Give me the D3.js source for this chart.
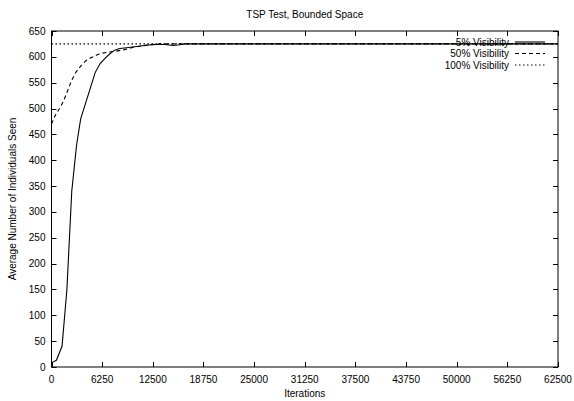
<!DOCTYPE html>
<html><head><meta charset="utf-8">
<script src="https://cdn.jsdelivr.net/npm/d3@7"></script>
<style>body{margin:0;background:#fff}svg{display:block}text{font-family:"Liberation Sans",Arial,sans-serif;font-size:10px;fill:#000}</style>
</head><body>
<script>
const seriesNames = ["5% Visibility", "50% Visibility", "100% Visibility"];
const xTicks = [0, 6250, 12500, 18750, 25000, 31250, 37500, 43750, 50000, 56250, 62500];
const yTicks = [0, 50, 100, 150, 200, 250, 300, 350, 400, 450, 500, 550, 600, 650];
const iter5 = [0, 600, 1300, 1900, 2500, 3100, 3600, 4200, 4800, 5400, 6000, 6600, 7200, 7800, 8400, 9000, 10000, 11000, 12000, 13000, 14000, 15000, 15600, 16500, 62500];
const vis5 = [8, 13, 40, 150, 340, 430, 480, 510, 540, 570, 587, 597, 606, 613, 616, 617, 619, 621, 623, 624, 624, 622, 623, 625, 625];
const iter50 = [0, 500, 1000, 1500, 2000, 2500, 3000, 3600, 4200, 4800, 5500, 6200, 7000, 8000, 9000, 10000, 11000, 12000, 13000, 62500];
const vis50 = [470, 488, 500, 515, 535, 555, 570, 582, 592, 598, 603, 607, 609, 611, 614, 618, 621, 623, 625, 625];
const iter100 = [0, 62500];
const vis100 = [625, 625];

const W = 574, H = 401;
const m = {l: 51.5, r: 558, t: 31, b: 367};
const svg = d3.select("body").append("svg").attr("width", W).attr("height", H);
const x = d3.scaleLinear().domain([0, 62500]).range([m.l, m.r]);
const y = d3.scaleLinear().domain([0, 650]).range([m.b, m.t]);

const tl = 5;
const tg = svg.append("g").attr("stroke", "#000").attr("stroke-width", 1);
xTicks.forEach(v => {
  const px = Math.round(x(v)) + 0.5;
  tg.append("line").attr("x1", px).attr("x2", px).attr("y1", m.b).attr("y2", m.b - tl);
  tg.append("line").attr("x1", px).attr("x2", px).attr("y1", m.t).attr("y2", m.t + tl);
  svg.append("text").attr("x", x(v)).attr("y", m.b + 16).attr("text-anchor", "middle").text(v);
});
yTicks.forEach(v => {
  const py = Math.round(y(v)) + 0.5;
  tg.append("line").attr("x1", m.l).attr("x2", m.l + tl).attr("y1", py).attr("y2", py);
  tg.append("line").attr("x1", m.r).attr("x2", m.r - tl).attr("y1", py).attr("y2", py);
  svg.append("text").attr("x", m.l - 6).attr("y", y(v) + 3.5).attr("text-anchor", "end").text(v);
});

const line = d3.line().x(d => x(d[0])).y(d => y(d[1]));
const dashes = [null, "4,3", "1.5,2.5"];
const sets = [d3.zip(iter5, vis5), d3.zip(iter50, vis50), d3.zip(iter100, vis100)];
sets.forEach((s, i) => {
  svg.append("path").datum(s).attr("d", line).attr("fill", "none").attr("stroke", "#000")
    .attr("stroke-width", 1.1).attr("stroke-dasharray", dashes[i]);
});

svg.append("rect").attr("x", m.l).attr("y", m.t).attr("width", m.r - m.l).attr("height", m.b - m.t)
  .attr("fill", "none").attr("stroke", "#000").attr("stroke-width", 1);

seriesNames.forEach((n, i) => {
  const ly = 42 + i * 11.5;
  svg.append("text").attr("x", 509).attr("y", ly + 3.5).attr("text-anchor", "end").text(n);
  svg.append("line").attr("x1", 515).attr("x2", 545).attr("y1", ly).attr("y2", ly)
    .attr("stroke", "#000").attr("stroke-width", 1.1).attr("stroke-dasharray", dashes[i]);
});

svg.append("text").attr("x", (m.l + m.r) / 2).attr("y", 18).attr("text-anchor", "middle").text("TSP Test, Bounded Space");
svg.append("text").attr("x", (m.l + m.r) / 2).attr("y", 397).attr("text-anchor", "middle").text("Iterations");
svg.append("text").attr("transform", `translate(16,${(m.t + m.b) / 2}) rotate(-90)`).attr("text-anchor", "middle").text("Average Number of Individuals Seen");
</script>
</body></html>
